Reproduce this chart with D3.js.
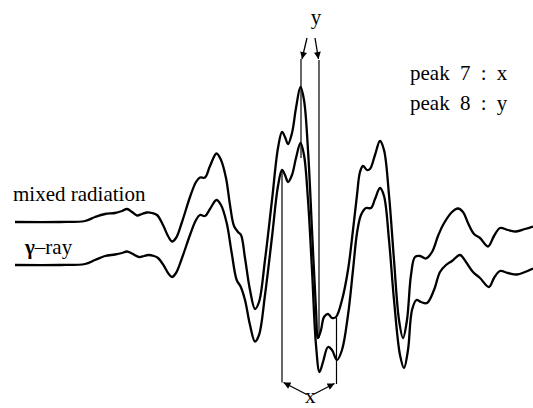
<!DOCTYPE html>
<html>
<head>
<meta charset="utf-8">
<script src="https://cdn.jsdelivr.net/npm/d3@7"></script>
<style>
	body { margin: 0; background: #fff; }
	svg { display: block; }
	text { font-family: "Liberation Serif", "Times New Roman", serif; fill: #000; }
</style>
</head>
<body>
<div id="chart"></div>
<script>

// signal traces, time (arbitrary units) vs amplitude (arbitrary units)
var mixedT = [0, 45, 70, 80, 90, 100, 107, 112, 117, 122, 127, 132, 137, 142, 148, 153, 157, 161, 167, 175,
	181, 185, 190, 195, 201.5, 206, 211, 215, 219, 223, 226, 230, 235, 240, 244, 250, 257, 263, 267, 270,
	273, 277, 281, 285.5, 289, 293, 297, 301, 303, 306, 309, 313, 317, 321, 327, 333, 338, 342, 345, 348,
	352, 355, 360, 365, 369, 374, 379, 384, 388, 392, 396, 400, 405, 411, 417, 423, 428, 437, 443, 448,
	453, 459, 465, 473, 479, 485, 493, 501, 510, 518];
var mixedV = [0, 0, 1, 5, 8, 9, 11, 13, 10, 6.5, 8, 9.5, 9, 7, -3, -14, -19.5, -16, 0, 25,
	40, 44.5, 44.5, 56, 68.5, 62, 44, 17, -4, -10, -13, -36, -68, -87, -80, -38, 22, 74, 90, 85,
	78, 89, 114, 135, 122, 72, -8, -88, -116, -108, -95, -92, -96, -95, -78, -48, -8, 27, 50, 56,
	52, 53, 67, 81, 72, 27, -38, -98, -116, -98, -53, -35, -34, -36.5, -30, -14, -3, 10, 13.5, 10,
	-1, -12, -16, -24.5, -14, -6, -8, -9.5, -7, -4.5];

var gammaT = [0, 45, 70, 80, 90, 100, 107, 112, 117, 124, 129, 133, 139, 143, 149, 153, 157, 161, 167, 175,
	181, 185, 190, 195, 201.5, 206, 211.7, 216.7, 221.7, 225.7, 230, 235, 240, 244, 250, 257, 263, 267, 270, 273,
	277, 281, 285.5, 289, 293, 297, 301, 304.5, 308, 313, 317, 322, 327, 333, 338, 342, 346, 351, 356, 360,
	365, 369, 374, 379, 385, 389, 393, 397, 401.5, 406, 412, 419, 425, 431, 437, 445, 451, 458, 465, 474,
	479, 485, 493, 502, 510, 518];
var gammaV = [-43, -43, -42, -38, -34, -32.5, -31, -29.5, -31.5, -35, -34, -33, -34, -36, -44, -51, -55, -51, -36, -13,
	2, 7, 6, 13, 22, 17, -1, -31, -58, -64.7, -78, -103, -119.5, -113, -73, -15, 36, 52, 47, 40,
	47, 64, 79, 67, 22, -48, -123, -150, -140, -125, -128, -138, -128, -93, -48, -11, 7, 14, 14, 23,
	34, 26, -18, -78, -133, -146, -128, -88, -78, -80, -81, -68, -50, -43, -39, -33, -40, -50, -56, -65,
	-56, -49, -51, -52.5, -50, -46.5];

// peak markers: time position and the amplitude span of each guide line
var peak7T    = [267, 321.5];
var peak7From = [52, -96];
var peak7To   = [-160.5, -162];
var peak8T    = [286, 304];
var peak8From = [163, 162];
var peak8To   = [64, -116];

var seriesNames = ["mixed radiation", "ray"];
var noteLines   = ["peak 7 : x", "peak 8 : y"];

var width = 533,
	height = 408;

var x = d3.scaleLinear().domain([0, 518]).range([15, 533]);
var y = d3.scaleLinear().domain([-200, 200]).range([422, 22]);

var svg = d3.select("#chart")
	.append("svg")
	.attr("width", width)
	.attr("height", height);

svg.append("defs")
	.append("marker")
	.attr("id", "head")
	.attr("viewBox", "0 0 10 10")
	.attr("refX", 10)
	.attr("refY", 5)
	.attr("markerUnits", "userSpaceOnUse")
	.attr("markerWidth", 11)
	.attr("markerHeight", 7)
	.attr("orient", "auto")
	.append("path")
	.attr("d", "M0,0L10,5L0,10z")
	.attr("fill", "#000");

var line = d3.line()
	.x(function(d) { return x(d[0]); })
	.y(function(d) { return y(d[1]); })
	.curve(d3.curveCatmullRom.alpha(0.5));

function pairs(ts, vs) {
	return ts.map(function(t, i) { return [t, vs[i]]; });
}

// guide lines
function guides(ts, from, to) {
	ts.forEach(function(t, i) {
		svg.append("line")
			.attr("x1", x(t))
			.attr("x2", x(t))
			.attr("y1", y(from[i]))
			.attr("y2", y(to[i]))
			.attr("stroke", "#000")
			.attr("stroke-width", 1.2);
	});
}
guides(peak7T, peak7From, peak7To);
guides(peak8T, peak8From, peak8To);

[pairs(mixedT, mixedV), pairs(gammaT, gammaV)].forEach(function(pts) {
	svg.append("path")
		.datum(pts)
		.attr("d", line)
		.attr("fill", "none")
		.attr("stroke", "#000")
		.attr("stroke-width", 2.3)
		.attr("stroke-linejoin", "round");
});

function arrow(x1, y1, x2, y2) {
	svg.append("line")
		.attr("x1", x1).attr("y1", y1)
		.attr("x2", x2).attr("y2", y2)
		.attr("stroke", "#000")
		.attr("stroke-width", 1.3)
		.attr("marker-end", "url(#head)");
}

// y arrows (peak 8)
var topY = y(peak8From[0]);
arrow(x(peak8T[0]) + 6, topY - 21, x(peak8T[0]) + 1, topY);
arrow(x(peak8T[1]) - 4, topY - 21, x(peak8T[1]) - 0.5, topY);
svg.append("text")
	.attr("x", (x(peak8T[0]) + x(peak8T[1])) / 2 + 6)
	.attr("y", topY - 35)
	.attr("text-anchor", "middle")
	.style("font-size", "21px")
	.text("y");

// x arrows (peak 7)
var botY = y(peak7To[0]);
var midX = (x(peak7T[0]) + x(peak7T[1])) / 2;
arrow(midX - 2.5, botY + 12, x(peak7T[0]) + 1.5, botY);
arrow(midX + 4, botY + 12, x(peak7T[1]) - 2, botY + 1);
svg.append("text")
	.attr("x", midX + 1)
	.attr("y", botY + 20.5)
	.attr("text-anchor", "middle")
	.style("font-size", "21px")
	.text("x");

// series labels
svg.append("text")
	.attr("x", 13)
	.attr("y", y(mixedV[0]) - 21)
	.style("font-size", "21px")
	.text(seriesNames[0]);

var g = svg.append("text")
	.attr("x", 25)
	.attr("y", y(gammaV[0]) - 11)
	.style("font-size", "21px");
g.append("tspan").style("font-weight", "bold").text("\u03b3");
g.append("tspan").text("\u2013" + seriesNames[1]);

// note
svg.selectAll(".note")
	.data(noteLines)
	.enter()
	.append("text")
	.attr("class", "note")
	.attr("x", 410)
	.attr("y", function(d, i) { return 80 + i * 30; })
	.style("font-size", "21px")
	.style("word-spacing", "5px")
	.text(function(d) { return d; });

</script>
</body>
</html>
